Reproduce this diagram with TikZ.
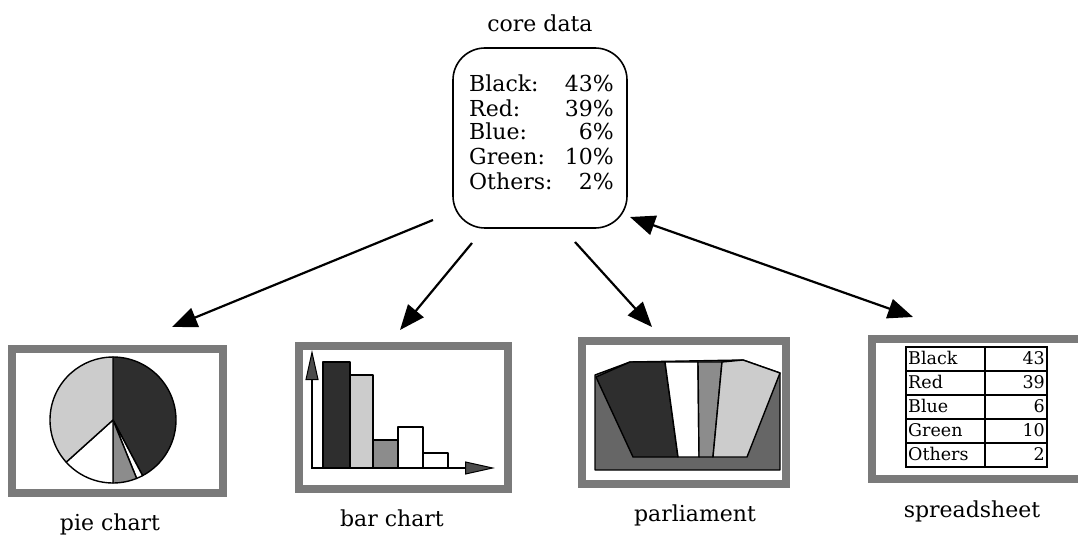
\documentclass[tikz,border=0pt]{standalone}
\usepackage{fontspec}
\setmainfont{DejaVu Serif}
\usetikzlibrary{arrows.meta}

\definecolor{framegray}{gray}{0.48}
\definecolor{darkfill}{gray}{0.18}
\definecolor{midfill}{gray}{0.55}
\definecolor{lightfill}{gray}{0.8}
\definecolor{seatfill}{gray}{0.4}
\definecolor{axisfill}{gray}{0.3}

\begin{document}
\begin{tikzpicture}[x=1pt,y=-1pt,
  conn/.style={line width=2.2pt,-{Triangle[length=25pt,width=20pt]}},
  twoway/.style={line width=2.2pt,{Triangle[length=25pt,width=20pt]}-{Triangle[length=25pt,width=20pt]}},
  panel/.style={draw=framegray,line width=8pt,fill=white,inner sep=0pt,rectangle},
  corebox/.style={draw,line width=1.6pt,rounded corners=32pt,inner sep=0pt,minimum width=174pt,minimum height=180pt},
  lbl/.style={font=\fontsize{22}{26}\selectfont,inner sep=0pt},
  cell/.style={font=\fontsize{17.5}{20}\selectfont,inner sep=0pt},
  piece/.style={draw,line width=1.4pt,line join=round},
  axis/.style={line width=2pt,-{Triangle[length=30pt,width=13pt,fill=axisfill,line width=1pt]}}]

\useasboundingbox (0,0) rectangle (1078,537);
\clip (0,0) rectangle (1078,537);

% ---------- central data box ----------
\node[lbl,anchor=base] (title) at (540,32) {core data};
\node[corebox] (core) at (540,138) {};
\foreach \name/\val/\y in {Black:/43\%/92, Red:/39\%/117, Blue:/6\%/140, Green:/10\%/165, Others:/2\%/190}{
  \node[lbl,anchor=base west] at (469,\y) {\name};
  \node[lbl,anchor=base east] at (614,\y) {\val};
}

% ---------- view panels ----------
\node[panel,minimum width=211pt,minimum height=144pt] (pie) at (117.5,421) {};
\node[panel,minimum width=209pt,minimum height=143pt] (bar) at (403.5,417.5) {};
\node[panel,minimum width=204pt,minimum height=143pt] (parl) at (684,412.5) {};
\node[panel,minimum width=218pt,minimum height=140pt] (sheet) at (981,409) {};

\node[lbl,anchor=base] (pielbl) at (110,530) {pie chart};
\node[lbl,anchor=base] (barlbl) at (392,526) {bar chart};
\node[lbl,anchor=base] (parllbl) at (695,521) {parliament};
\node[lbl,anchor=base] (sheetlbl) at (972,517) {spreadsheet};

% ---------- pie chart ----------
\coordinate (pc) at (113,420);
\filldraw[piece,fill=darkfill] (pc) -- ++(-90:63) arc[start angle=-90,end angle=62,radius=63] -- cycle;
\filldraw[piece,fill=white] (pc) -- ++(62:63) arc[start angle=62,end angle=68,radius=63] -- cycle;
\filldraw[piece,fill=midfill] (pc) -- ++(68:63) arc[start angle=68,end angle=90,radius=63] -- cycle;
\filldraw[piece,fill=white] (pc) -- ++(90:63) arc[start angle=90,end angle=138,radius=63] -- cycle;
\filldraw[piece,fill=lightfill] (pc) -- ++(138:63) arc[start angle=138,end angle=270,radius=63] -- cycle;

% ---------- bar chart ----------
\filldraw[piece,fill=darkfill] (323,468) rectangle (350,362);
\filldraw[piece,fill=lightfill] (350,468) rectangle (373,375);
\filldraw[piece,fill=midfill] (373,468) rectangle (398,440);
\filldraw[piece,fill=white] (398,468) rectangle (423,427);
\filldraw[piece,fill=white] (423,468) rectangle (448,453);
\draw[axis] (312,468) -- (312,350);
\draw[axis] (311,468) -- (495,468);

% ---------- parliament ----------
\filldraw[piece,fill=seatfill] (595,375) -- (630,362) -- (743,360) -- (780,373) -- (780,470) -- (595,470) -- cycle;
\filldraw[piece,fill=darkfill] (596,377) -- (630,362) -- (665,362) -- (678,457) -- (633,457) -- cycle;
\filldraw[piece,fill=white] (665,362) -- (698,362) -- (699,457) -- (678,457) -- cycle;
\filldraw[piece,fill=midfill] (698,362) -- (722,362) -- (713,457) -- (699,457) -- cycle;
\filldraw[piece,fill=lightfill] (722,362) -- (743,360) -- (780,373) -- (747,457) -- (713,457) -- cycle;

% ---------- spreadsheet ----------
\foreach \name/\val/\top [count=\i] in {Black/43/347, Red/39/371, Blue/6/395, Green/10/419, Others/2/443}{
  \draw[line width=1.5pt] (906,\top) rectangle (1047,\top+24);
  \draw[line width=1.5pt] (985,\top) -- (985,\top+24);
  \node[cell,anchor=base west] at (908,\top+17.5) {\name};
  \node[cell,anchor=base east] at (1045,\top+17.5) {\val};
}

% ---------- connectors ----------
\coordinate (s1) at (433,220);
\coordinate (e1) at (172,327);
\coordinate (s2) at (472,243);
\coordinate (e2) at (400,330);
\coordinate (s3) at (575,242);
\coordinate (e3) at (652,327);
\coordinate (s4) at (630,217);
\coordinate (e4) at (913,317);
\draw[conn] (s1) -- (e1);
\draw[conn] (s2) -- (e2);
\draw[conn] (s3) -- (e3);
\draw[twoway] (s4) -- (e4);
\end{tikzpicture}
\end{document}
